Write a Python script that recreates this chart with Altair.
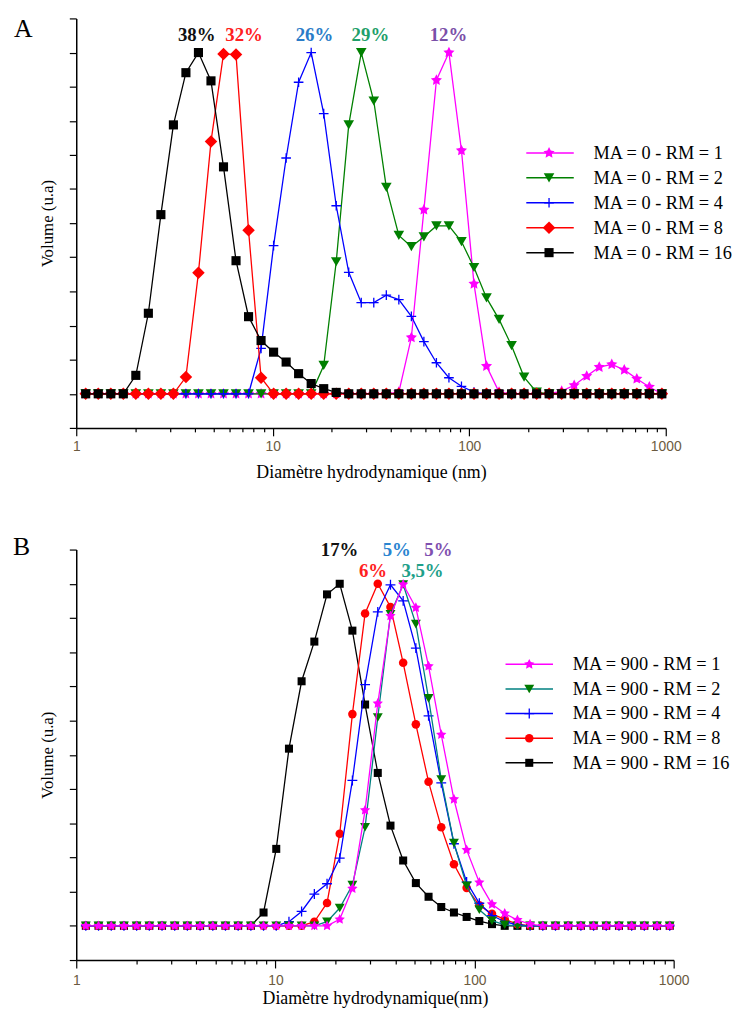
import altair as alt
import pandas as pd

# Hydrodynamic diameter bins (nm) of the DLS distribution
sizes = [1.117, 1.294, 1.499, 1.736, 2.01, 2.328, 2.696, 3.122, 3.615, 4.187,
         4.849, 5.615, 6.503, 7.531, 8.721, 10.1, 11.7, 13.54, 15.69, 18.17,
         21.04, 24.36, 28.21, 32.67, 37.84, 43.82, 50.75, 58.77, 68.06, 78.82,
         91.28, 105.7, 122.4, 141.8, 164.2, 190.1, 220.2, 255.0, 295.3, 342.0,
         396.1, 458.7, 531.2, 615.1, 712.4, 825.0, 955.4]

# Panel A : MA = 0
a_rm1 = [0, 0, 0, 0, 0, 0, 0, 0, 0, 0, 0, 0, 0, 0, 0, 0, 0, 0, 0, 0, 0, 0, 0, 0, 0,
         0.05, 1.65, 5.39, 9.19, 10.0, 7.13, 3.22, 0.81, 0.05, 0,
         0, 0, 0, 0.08, 0.25, 0.52, 0.78, 0.86, 0.70, 0.44, 0.20, 0]
a_rm2 = [0, 0, 0, 0, 0, 0, 0, 0, 0, 0, 0, 0, 0, 0, 0, 0, 0, 0, 0, 0.83,
         3.87, 7.88, 10.0, 8.58, 6.05, 4.64, 4.31, 4.60, 4.92, 4.92,
         4.46, 3.70, 2.81, 2.18, 1.41, 0.49, 0.05, 0, 0, 0,
         0, 0, 0, 0, 0, 0, 0]
a_rm4 = [0, 0, 0, 0, 0, 0, 0, 0, 0, 0, 0, 0, 0, 0, 1.33,
         4.34, 6.91, 9.13, 10.0, 8.21, 5.51, 3.56, 2.67, 2.67, 2.89,
         2.76, 2.27, 1.53, 0.91, 0.47, 0.22, 0.05, 0, 0, 0,
         0, 0, 0, 0, 0, 0, 0, 0, 0, 0, 0, 0]
a_rm8 = [0, 0, 0, 0, 0, 0, 0, 0, 0.49, 3.55, 7.39, 9.96, 9.94, 4.79, 0.47,
         0, 0, 0, 0, 0, 0, 0, 0, 0, 0, 0, 0, 0, 0, 0, 0, 0,
         0, 0, 0, 0, 0, 0, 0, 0, 0, 0, 0, 0, 0, 0, 0]
a_rm16 = [0, 0, 0, 0, 0.54, 2.36, 5.25, 7.88, 9.41, 10.0,
          9.17, 6.65, 3.90, 2.26, 1.56, 1.22, 0.93, 0.59, 0.30, 0.15,
          0.04, 0, 0, 0, 0, 0, 0, 0, 0, 0, 0, 0, 0, 0, 0, 0, 0,
          0, 0, 0, 0, 0, 0, 0, 0, 0, 0]

# Panel B : MA = 900
b_rm1 = [0, 0, 0, 0, 0, 0, 0, 0, 0, 0, 0, 0, 0, 0, 0, 0, 0, 0, 0, 0,
         0.19, 1.09, 3.38, 6.50, 9.06, 9.98, 9.30, 7.59, 5.59, 3.70,
         2.22, 1.27, 0.63, 0.36, 0.17, 0.05, 0, 0, 0, 0,
         0, 0, 0, 0, 0, 0, 0]
b_rm2 = [0, 0, 0, 0, 0, 0, 0, 0, 0, 0, 0, 0, 0, 0, 0, 0, 0, 0, 0, 0.12,
         0.52, 1.19, 2.88, 6.09, 9.11, 9.98, 8.82, 6.65, 4.28, 2.42,
         1.17, 0.47, 0.15, 0.03, 0, 0, 0, 0, 0, 0,
         0, 0, 0, 0, 0, 0, 0]
b_rm4 = [0, 0, 0, 0, 0, 0, 0, 0, 0, 0, 0, 0, 0, 0, 0, 0, 0.12, 0.42, 0.93, 1.23,
         1.98, 4.25, 7.05, 9.18, 9.97, 9.50, 8.12, 6.14, 4.18, 2.40,
         1.28, 0.66, 0.30, 0.12, 0.03, 0, 0, 0, 0, 0,
         0, 0, 0, 0, 0, 0, 0]
b_rm8 = [0, 0, 0, 0, 0, 0, 0, 0, 0, 0, 0, 0, 0, 0, 0, 0, 0, 0, 0.12, 0.67,
         2.69, 6.19, 9.13, 10.0, 9.32, 7.69, 5.89, 4.21, 2.88, 1.80,
         1.11, 0.60, 0.35, 0.19, 0.05, 0, 0, 0, 0, 0,
         0, 0, 0, 0, 0, 0, 0]
b_rm16 = [0, 0, 0, 0, 0, 0, 0, 0, 0, 0, 0, 0, 0, 0, 0.39, 2.25, 5.18, 7.15, 8.31, 9.69,
          10.0, 8.63, 6.47, 4.47, 2.93, 1.91, 1.25, 0.85, 0.55, 0.39,
          0.26, 0.14, 0.05, 0, 0, 0, 0, 0, 0, 0,
          0, 0, 0, 0, 0, 0, 0]

labels_a = ["MA = 0 - RM = 1", "MA = 0 - RM = 2", "MA = 0 - RM = 4",
            "MA = 0 - RM = 8", "MA = 0 - RM = 16"]
labels_b = ["MA = 900 - RM = 1", "MA = 900 - RM = 2", "MA = 900 - RM = 4",
            "MA = 900 - RM = 8", "MA = 900 - RM = 16"]

# peak annotations: text, diameter (nm), level (u.a)
ann_a_text = ["38%", "32%", "26%", "29%", "12%"]
ann_a_x = [4.10, 7.15, 16.3, 31.4, 78.4]
ann_a_y = [10.5, 10.5, 10.5, 10.5, 10.5]
ann_b_text = ["17%", "5%", "5%", "6%", "3,5%"]
ann_b_x = [21.0, 40.7, 65.8, 30.9, 54.8]
ann_b_y = [10.98, 10.98, 10.98, 10.38, 10.38]

# ---------------- styling ----------------
SERIF = "Liberation Serif, Times New Roman, serif"
STAR = ("M0,-1L0.294,-0.405L0.951,-0.309L0.476,0.155L0.588,0.809L0,0.5"
        "L-0.588,0.809L-0.476,0.155L-0.951,-0.309L-0.294,-0.405Z")
PLUS = "M-1,0L1,0M0,-1L0,1"

ann_a_col = ["#111111", "#ff2020", "#2a7cc8", "#1fa06a", "#7a4fa8"]
ann_b_col = ["#111111", "#2a84d0", "#8050b0", "#ff2020", "#1fa08a"]

# per series style: line colour, marker colour, shape, size, filled
style_a = [
    ("#ff00ff", "#ff00ff", STAR, 140, True),
    ("#008000", "#008000", "triangle-down", 115, True),
    ("#0000ff", "#0000ff", PLUS, 95, False),
    ("#ff0000", "#ff0000", "diamond", 160, True),
    ("#000000", "#000000", "square", 85, True),
]
style_b = [
    ("#ff00ff", "#ff00ff", STAR, 120, True),
    ("#008080", "#007a00", "triangle-down", 100, True),
    ("#0000ff", "#0000ff", PLUS, 100, False),
    ("#ff0000", "#ff0000", "circle", 75, True),
    ("#000000", "#000000", "square", 66, True),
]

LOGX = alt.Scale(type="log", domain=[1, 1000], nice=False)
YS = alt.Scale(domain=[-1, 11], nice=False, zero=False)
x_tick_vals = [1, 2, 3, 4, 5, 6, 7, 8, 9, 10, 20, 30, 40, 50, 60, 70, 80, 90,
               100, 200, 300, 400, 500, 600, 700, 800, 900, 1000]
MAJOR = "indexof([1, 10, 100, 1000], datum.value) >= 0"


def x_axis(title, label_pad, title_pad):
    return alt.Axis(
        title=title, values=x_tick_vals,
        labelExpr=f"{MAJOR} ? '' + datum.value : ''",
        tickSize={"condition": {"test": MAJOR, "value": 8}, "value": 4},
        domainColor="black", domainWidth=1.5, tickColor="black", tickWidth=1.2,
        labelFont="Liberation Sans", labelFontSize=14, labelColor="#6b5a40",
        labelPadding=label_pad, labelFlush=False, labelOverlap=False,
        titleFont=SERIF, titleFontSize=18, titleFontWeight="normal",
        titleColor="black", titlePadding=title_pad, grid=False)


def y_axis():
    return alt.Axis(
        title="Volume (u.a)", values=list(range(-1, 12)), labels=False,
        tickSize=7, domainColor="black", domainWidth=1.5, tickColor="black",
        tickWidth=1.2, titleFont=SERIF, titleFontSize=17, titleFontWeight="normal",
        titleColor="black", titlePadding=12, grid=False)


dummy = pd.DataFrame({"k": [0]})


def build_panel(values, labels, styles, order, ann_text, ann_x, ann_y, ann_col,
                letter, width, height, xtitle, label_pad, title_pad, leg):
    xa = x_axis(xtitle, label_pad, title_pad)
    ya = y_axis()
    layers = []
    for i in order:
        lc, mc, shape, msize, filled = styles[i]
        df = pd.DataFrame({"size": sizes, "v": values[i]})
        enc = dict(x=alt.X("size:Q", scale=LOGX, axis=xa),
                   y=alt.Y("v:Q", scale=YS, axis=ya))
        layers.append(alt.Chart(df).mark_line(color=lc, strokeWidth=1.3).encode(**enc))
        if filled:
            pt = alt.Chart(df).mark_point(shape=shape, filled=True, size=msize,
                                          color=mc, opacity=1, strokeWidth=0)
        else:
            pt = alt.Chart(df).mark_point(shape=shape, filled=False, size=msize,
                                          color=mc, opacity=1, strokeWidth=1.3)
        layers.append(pt.encode(**enc))
    # peak annotations
    for t, ax, ay, c in zip(ann_text, ann_x, ann_y, ann_col):
        adf = pd.DataFrame({"size": [ax], "v": [ay]})
        layers.append(alt.Chart(adf).mark_text(
            text=t, font=SERIF, fontSize=19, fontWeight="bold", color=c,
            align="center", baseline="middle").encode(
            x=alt.X("size:Q", scale=LOGX, axis=xa),
            y=alt.Y("v:Q", scale=YS, axis=ya)))
    # legend
    lx1, lx2, lxm, ltx, ly0, ldy = leg
    for k, lab in enumerate(labels):
        lc, mc, shape, msize, filled = styles[k]
        yy = ly0 + k * ldy
        layers.append(alt.Chart(dummy).mark_rule(color=lc, strokeWidth=1.5).encode(
            x=alt.value(lx1), x2=alt.value(lx2), y=alt.value(yy)))
        if filled:
            lp = alt.Chart(dummy).mark_point(shape=shape, filled=True, size=msize,
                                             color=mc, opacity=1, strokeWidth=0)
        else:
            lp = alt.Chart(dummy).mark_point(shape=shape, filled=False, size=msize,
                                             color=mc, opacity=1, strokeWidth=1.3)
        layers.append(lp.encode(x=alt.value(lxm), y=alt.value(yy)))
        layers.append(alt.Chart(dummy).mark_text(
            text=lab, font=SERIF, fontSize=18.5, color="black", align="left",
            baseline="middle").encode(x=alt.value(ltx), y=alt.value(yy)))
    # panel letter
    lt_x, lt_y = letter[1], letter[2]
    layers.append(alt.Chart(dummy).mark_text(
        text=letter[0], font=SERIF, fontSize=26, color="black", align="left",
        baseline="middle").encode(x=alt.value(lt_x), y=alt.value(lt_y)))
    return alt.layer(*layers).properties(width=width, height=height)


panel_a = build_panel(
    [a_rm1, a_rm2, a_rm4, a_rm8, a_rm16], labels_a, style_a, [0, 1, 2, 3, 4],
    ann_a_text, ann_a_x, ann_a_y, ann_a_col, ("A", -63, 11), 596, 414,
    "Diamètre hydrodynamique (nm)", 4, 10,
    (455, 503, 478, 523, 136, 25.2))

panel_b = build_panel(
    [b_rm1, b_rm2, b_rm4, b_rm8, b_rm16], labels_b, style_b, [4, 3, 2, 1, 0],
    ann_b_text, ann_b_x, ann_b_y, ann_b_col, ("B", -64, -3), 604, 415,
    "Diamètre hydrodynamique(nm)", 6, 2,
    (434, 482, 458, 502, 116, 24.9))

chart = alt.vconcat(panel_a, panel_b, spacing=53).configure_view(
    stroke=None).properties(
    padding={"left": 5, "top": 3, "right": 0, "bottom": 0}, background="white")

chart.save("out.html", embed_options={"renderer": "svg", "actions": False})
